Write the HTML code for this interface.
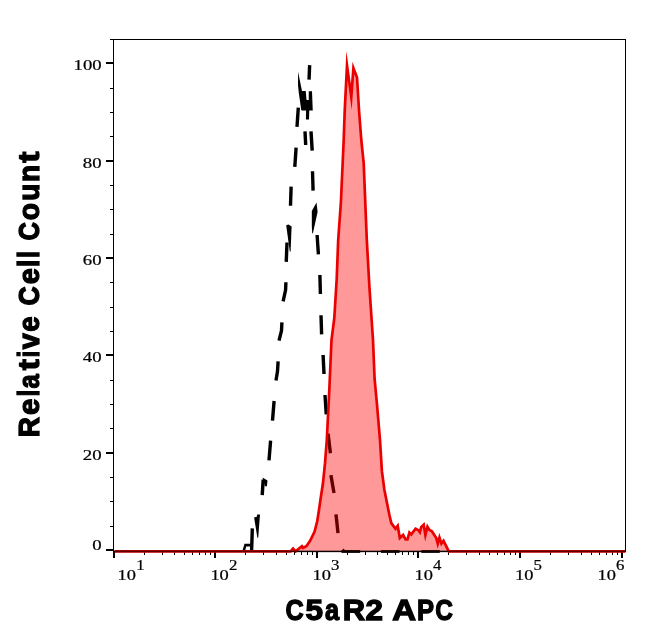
<!DOCTYPE html>
<html><head><meta charset="utf-8"><title>C5aR2 APC</title>
<style>
html,body{margin:0;padding:0;background:#fff;}
body{width:646px;height:641px;overflow:hidden;font-family:"Liberation Sans",sans-serif;}
svg{display:block;}
.tk{font-family:"Liberation Serif",serif;fill:#000;stroke:#000;stroke-width:0.22px;}
.lb{font-family:"Liberation Sans",sans-serif;font-weight:bold;fill:#000;stroke:#000;stroke-width:1.3px;stroke-linejoin:miter;}
</style></head><body>
<svg width="646" height="641" viewBox="0 0 646 641">
<rect x="0" y="0" width="646" height="641" fill="#ffffff"/>
<g fill="none" stroke="#000" stroke-width="3.4" stroke-linecap="butt" stroke-linejoin="round">
<polyline points="252.30,528.40 251.60,550.50"/>
<polyline points="262.20,495.20 263.20,479.50"/>
<polyline points="269.00,460.30 270.60,440.60"/>
<polyline points="272.50,420.60 274.10,401.00"/>
<polyline points="276.00,380.60 277.50,371.30 278.10,361.30"/>
<polyline points="279.00,340.60 281.50,330.60 281.90,322.30"/>
<polyline points="283.10,301.30 285.60,290.00 285.90,282.30"/>
<polyline points="286.25,261.90 287.00,242.50"/>
<polyline points="290.50,205.80 291.10,186.60"/>
<polyline points="294.80,166.90 296.10,147.60"/>
<polyline points="297.00,126.80 298.30,107.60"/>
<polyline points="309.65,65.10 309.05,79.60"/>
<polyline points="305.00,131.30 305.70,145.00"/>
<polyline points="311.00,131.30 312.20,150.60"/>
<polyline points="312.50,171.30 313.10,190.60"/>
<polyline points="317.10,235.00 318.40,254.40"/>
<polyline points="319.90,275.00 320.40,294.00"/>
<polyline points="321.00,315.30 321.60,334.40"/>
<polyline points="323.10,355.00 324.00,374.00"/>
<polyline points="325.00,395.00 326.25,414.40"/>
<polyline points="328.10,433.60 330.40,453.30"/>
<polyline points="330.90,475.10 334.00,493.00"/>
<polyline points="336.00,514.40 338.00,533.10"/>
</g>
<g fill="#000" stroke="none">
<polygon points="242.50,550.50 244.50,543.80 250.80,543.80 250.80,546.50 246.20,546.50 245.20,550.50"/>
<polygon points="254.10,517.50 256.80,516.70 257.20,514.40 260.00,514.50 258.20,537.80 257.40,537.80"/>
<polygon points="262.50,477.50 267.50,480.60 266.90,486.25 265.00,486.25"/>
<polygon points="286.20,225.20 288.50,224.50 291.60,226.50 290.60,251.50 289.80,251.50"/>
<polygon points="298.10,71.80 299.75,80.00 302.00,91.00 305.75,91.00 306.50,100.00 308.75,100.00 308.75,91.25 312.00,91.25 312.75,110.50 309.25,110.60 309.00,119.60 305.90,119.60 306.10,110.60 301.80,110.60 301.25,110.00 298.75,92.50 298.00,85.00"/>
<polygon points="316.50,202.50 317.60,212.00 312.90,233.30 312.20,233.30 311.80,226.00 311.80,211.00"/>
</g>
<g shape-rendering="crispEdges" fill="#000">
<rect x="110" y="39" width="516" height="1"/>
<rect x="113" y="39" width="1" height="513"/>
<rect x="625" y="39" width="1" height="513"/>
<rect x="106" y="549" width="8" height="2"/>
<rect x="110" y="526" width="4" height="1"/>
<rect x="110" y="501" width="4" height="1"/>
<rect x="110" y="477" width="4" height="1"/>
<rect x="106" y="452" width="8" height="2"/>
<rect x="110" y="428" width="4" height="1"/>
<rect x="110" y="404" width="4" height="1"/>
<rect x="110" y="380" width="4" height="1"/>
<rect x="106" y="354" width="8" height="2"/>
<rect x="110" y="331" width="4" height="1"/>
<rect x="110" y="307" width="4" height="1"/>
<rect x="110" y="282" width="4" height="1"/>
<rect x="106" y="257" width="8" height="2"/>
<rect x="110" y="234" width="4" height="1"/>
<rect x="110" y="209" width="4" height="1"/>
<rect x="110" y="185" width="4" height="1"/>
<rect x="106" y="160" width="8" height="2"/>
<rect x="110" y="136" width="4" height="1"/>
<rect x="110" y="112" width="4" height="1"/>
<rect x="110" y="88" width="4" height="1"/>
<rect x="106" y="62" width="8" height="2"/>
<rect x="113" y="551" width="2" height="7"/>
<rect x="144" y="551" width="1" height="4"/>
<rect x="162" y="551" width="1" height="4"/>
<rect x="174" y="551" width="1" height="4"/>
<rect x="184" y="551" width="1" height="4"/>
<rect x="192" y="551" width="1" height="4"/>
<rect x="199" y="551" width="1" height="4"/>
<rect x="205" y="551" width="1" height="4"/>
<rect x="210" y="551" width="1" height="4"/>
<rect x="214" y="551" width="2" height="7"/>
<rect x="245" y="551" width="1" height="4"/>
<rect x="263" y="551" width="1" height="4"/>
<rect x="276" y="551" width="1" height="4"/>
<rect x="286" y="551" width="1" height="4"/>
<rect x="294" y="551" width="1" height="4"/>
<rect x="301" y="551" width="1" height="4"/>
<rect x="307" y="551" width="1" height="4"/>
<rect x="312" y="551" width="1" height="4"/>
<rect x="316" y="551" width="2" height="7"/>
<rect x="347" y="551" width="1" height="4"/>
<rect x="365" y="551" width="1" height="4"/>
<rect x="377" y="551" width="1" height="4"/>
<rect x="387" y="551" width="1" height="4"/>
<rect x="395" y="551" width="1" height="4"/>
<rect x="402" y="551" width="1" height="4"/>
<rect x="408" y="551" width="1" height="4"/>
<rect x="413" y="551" width="1" height="4"/>
<rect x="417" y="551" width="2" height="7"/>
<rect x="448" y="551" width="1" height="4"/>
<rect x="466" y="551" width="1" height="4"/>
<rect x="479" y="551" width="1" height="4"/>
<rect x="489" y="551" width="1" height="4"/>
<rect x="497" y="551" width="1" height="4"/>
<rect x="504" y="551" width="1" height="4"/>
<rect x="510" y="551" width="1" height="4"/>
<rect x="515" y="551" width="1" height="4"/>
<rect x="519" y="551" width="2" height="7"/>
<rect x="550" y="551" width="1" height="4"/>
<rect x="568" y="551" width="1" height="4"/>
<rect x="581" y="551" width="1" height="4"/>
<rect x="591" y="551" width="1" height="4"/>
<rect x="599" y="551" width="1" height="4"/>
<rect x="606" y="551" width="1" height="4"/>
<rect x="612" y="551" width="1" height="4"/>
<rect x="617" y="551" width="1" height="4"/>
<rect x="621" y="551" width="2" height="7"/>
</g>
<rect x="113" y="551" width="513" height="1" fill="#000" shape-rendering="crispEdges"/>
<polygon fill="#ff0000" fill-opacity="0.4" stroke="none" points="114.60,551.30 290.60,551.30 293.10,548.50 295.60,551.30 298.00,549.40 301.90,546.30 303.00,548.00 306.30,546.30 310.00,541.00 314.60,531.50 317.20,521.30 318.80,511.30 320.60,498.80 322.90,483.80 325.00,463.40 326.80,440.00 329.30,390.00 331.50,340.00 334.30,318.00 336.70,279.00 338.20,240.00 340.90,202.40 343.70,140.00 344.75,110.00 347.00,65.50 351.30,97.00 353.40,68.00 357.00,77.50 359.00,110.00 361.30,140.00 363.70,163.40 366.80,240.00 369.40,286.80 373.00,340.00 374.60,379.00 376.80,402.40 380.00,440.00 381.90,471.20 384.40,490.00 386.90,502.50 389.40,515.00 391.30,523.10 395.50,528.82 397.69,525.84 399.81,538.08 403.10,535.00 405.60,539.40 407.50,539.40 409.40,532.50 411.30,534.40 415.60,528.80 418.10,530.00 419.85,532.24 421.30,526.90 423.70,524.74 425.40,535.06 427.47,526.76 429.40,530.00 431.90,531.30 436.30,538.10 437.76,543.76 439.45,537.44 441.43,543.56 443.53,540.80 448.80,551.30 625.50,551.30"/>
<polyline fill="none" stroke="#ea0000" stroke-width="2.7" stroke-linejoin="miter" stroke-miterlimit="30" points="114.60,551.30 290.60,551.30 293.10,548.50 295.60,551.30 298.00,549.40 301.90,546.30 303.00,548.00 306.30,546.30 310.00,541.00 314.60,531.50 317.20,521.30 318.80,511.30 320.60,498.80 322.90,483.80 325.00,463.40 326.80,440.00 329.30,390.00 331.50,340.00 334.30,318.00 336.70,279.00 338.20,240.00 340.90,202.40 343.70,140.00 344.75,110.00 347.00,65.50 351.30,97.00 353.40,68.00 357.00,77.50 359.00,110.00 361.30,140.00 363.70,163.40 366.80,240.00 369.40,286.80 373.00,340.00 374.60,379.00 376.80,402.40 380.00,440.00 381.90,471.20 384.40,490.00 386.90,502.50 389.40,515.00 391.30,523.10 395.50,528.82 397.69,525.84 399.81,538.08 403.10,535.00 405.60,539.40 407.50,539.40 409.40,532.50 411.30,534.40 415.60,528.80 418.10,530.00 419.85,532.24 421.30,526.90 423.70,524.74 425.40,535.06 427.47,526.76 429.40,530.00 431.90,531.30 436.30,538.10 437.76,543.76 439.45,537.44 441.43,543.56 443.53,540.80 448.80,551.30 625.50,551.30"/>
<rect x="114" y="551" width="511" height="1" fill="#000" fill-opacity="0.6" shape-rendering="crispEdges"/>
<rect x="114" y="550" width="511" height="1" fill="#000" fill-opacity="0.30" shape-rendering="crispEdges"/>
<rect x="114" y="552" width="511" height="1" fill="#000" fill-opacity="0.15" shape-rendering="crispEdges"/>
<rect x="341.5" y="550.1" width="18.7" height="2.8" fill="#100000"/>
<rect x="381.0" y="550.1" width="18.5" height="2.8" fill="#100000"/>
<rect x="421.3" y="550.1" width="18.5" height="2.8" fill="#100000"/>
<polygon points="341.2,551 343.6,548.6 345.0,550.2" fill="#300000"/>
<rect x="113" y="39" width="1" height="513" fill="#000" shape-rendering="crispEdges"/>
<rect x="625" y="39" width="1" height="513" fill="#000" shape-rendering="crispEdges"/>
<g opacity="0.999">
<text class="tk" x="73.6" y="70.0" font-size="13.7" textLength="28.0" lengthAdjust="spacingAndGlyphs">100</text>
<text class="tk" x="82.8" y="168.0" font-size="13.7" textLength="18.8" lengthAdjust="spacingAndGlyphs">80</text>
<text class="tk" x="82.8" y="265.0" font-size="13.7" textLength="18.8" lengthAdjust="spacingAndGlyphs">60</text>
<text class="tk" x="82.8" y="362.0" font-size="13.7" textLength="18.8" lengthAdjust="spacingAndGlyphs">40</text>
<text class="tk" x="82.8" y="460.0" font-size="13.7" textLength="18.8" lengthAdjust="spacingAndGlyphs">20</text>
<text class="tk" x="92.2" y="549.8" font-size="13.7" textLength="9.4" lengthAdjust="spacingAndGlyphs">0</text>
<text class="tk" x="117.6" y="580.0" font-size="13.7" textLength="18.4" lengthAdjust="spacingAndGlyphs">10</text>
<text class="tk" x="136.2" y="570.4" font-size="13.7" textLength="8.4" lengthAdjust="spacingAndGlyphs">1</text>
<text class="tk" x="210.4" y="580.0" font-size="13.7" textLength="18.4" lengthAdjust="spacingAndGlyphs">10</text>
<text class="tk" x="229.0" y="570.4" font-size="13.7" textLength="8.4" lengthAdjust="spacingAndGlyphs">2</text>
<text class="tk" x="312.5" y="580.0" font-size="13.7" textLength="18.4" lengthAdjust="spacingAndGlyphs">10</text>
<text class="tk" x="331.1" y="570.4" font-size="13.7" textLength="8.4" lengthAdjust="spacingAndGlyphs">3</text>
<text class="tk" x="414.5" y="580.0" font-size="13.7" textLength="18.4" lengthAdjust="spacingAndGlyphs">10</text>
<text class="tk" x="433.1" y="570.4" font-size="13.7" textLength="8.4" lengthAdjust="spacingAndGlyphs">4</text>
<text class="tk" x="515.0" y="580.0" font-size="13.7" textLength="18.4" lengthAdjust="spacingAndGlyphs">10</text>
<text class="tk" x="533.6" y="570.4" font-size="13.7" textLength="8.4" lengthAdjust="spacingAndGlyphs">5</text>
<text class="tk" x="597.5" y="580.0" font-size="13.7" textLength="18.4" lengthAdjust="spacingAndGlyphs">10</text>
<text class="tk" x="616.1" y="570.4" font-size="13.7" textLength="8.4" lengthAdjust="spacingAndGlyphs">6</text>
<text class="lb" transform="translate(285.51,620.0) scale(0.8613,1.000)" font-size="29.3">C</text>
<text class="lb" transform="translate(305.38,620.0) scale(1.0769,1.000)" font-size="29.3">5</text>
<text class="lb" transform="translate(325.11,620.0) scale(0.8641,1.000)" font-size="29.3">a</text>
<text class="lb" transform="translate(342.67,620.0) scale(1.0592,1.000)" font-size="29.3">R</text>
<text class="lb" transform="translate(365.56,620.0) scale(1.0704,1.000)" font-size="29.3">2</text>
<text class="lb" transform="translate(392.23,620.0) scale(1.1243,1.000)" font-size="29.3">A</text>
<text class="lb" transform="translate(416.94,620.0) scale(0.8745,1.000)" font-size="29.3">P</text>
<text class="lb" transform="translate(435.35,620.0) scale(0.8352,1.000)" font-size="29.3">C</text>
<text class="lb" transform="translate(38.6,437.13) rotate(-90) scale(0.9571,1.000)" font-size="29.3">R</text>
<text class="lb" transform="translate(38.6,415.01) rotate(-90) scale(1.0107,1.000)" font-size="29.3">e</text>
<text class="lb" transform="translate(38.6,396.43) rotate(-90) scale(0.8209,1.000)" font-size="29.3">l</text>
<text class="lb" transform="translate(38.6,388.60) rotate(-90) scale(0.8769,1.000)" font-size="29.3">a</text>
<text class="lb" transform="translate(38.6,370.35) rotate(-90) scale(1.1281,1.000)" font-size="29.3">t</text>
<text class="lb" transform="translate(38.6,357.33) rotate(-90) scale(0.7711,1.000)" font-size="29.3">i</text>
<text class="lb" transform="translate(38.6,349.36) rotate(-90) scale(0.9781,1.000)" font-size="29.3">v</text>
<text class="lb" transform="translate(38.6,331.73) rotate(-90) scale(0.9470,1.000)" font-size="29.3">e</text>
<text class="lb" transform="translate(38.6,305.54) rotate(-90) scale(0.9031,1.000)" font-size="29.3">C</text>
<text class="lb" transform="translate(38.6,284.28) rotate(-90) scale(0.9895,1.000)" font-size="29.3">e</text>
<text class="lb" transform="translate(38.6,266.88) rotate(-90) scale(0.8955,1.000)" font-size="29.3">l</text>
<text class="lb" transform="translate(38.6,257.88) rotate(-90) scale(0.8457,1.000)" font-size="29.3">l</text>
<text class="lb" transform="translate(38.6,240.60) rotate(-90) scale(0.8718,1.000)" font-size="29.3">C</text>
<text class="lb" transform="translate(38.6,220.36) rotate(-90) scale(0.9674,1.000)" font-size="29.3">o</text>
<text class="lb" transform="translate(38.6,200.68) rotate(-90) scale(0.9541,1.000)" font-size="29.3">u</text>
<text class="lb" transform="translate(38.6,182.09) rotate(-90) scale(0.9541,1.000)" font-size="29.3">n</text>
<text class="lb" transform="translate(38.6,162.66) rotate(-90) scale(1.1502,1.000)" font-size="29.3">t</text>
</g>
</svg>
</body></html>
